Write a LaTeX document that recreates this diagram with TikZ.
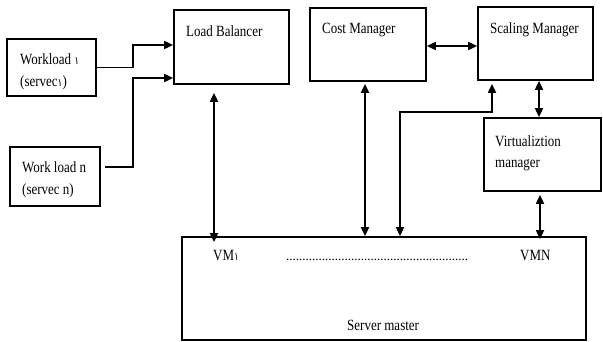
\documentclass[tikz,border=0pt]{standalone}
\usepackage{fontspec}
\setmainfont{Liberation Serif}
\newfontfamily\arabicfont[Script=Arabic]{DejaVu Sans}
\usetikzlibrary{arrows.meta,calc}
\newcommand{\aone}{{\arabicfont\fontsize{9}{9}\selectfont ١}}
\newcommand{\tall}[1]{\scalebox{1}[1.2]{#1}}
\tikzset{
  box/.style={draw, line width=1.7pt, inner sep=0pt, minimum width=#1},
  lbl/.style={anchor=base west, inner sep=0pt, font=\fontsize{13}{15}\selectfont},
  arr/.style={line width=1.7pt, -{Triangle[length=9pt,width=8pt]}},
  darr/.style={line width=1.7pt, {Triangle[length=9pt,width=8pt]}-{Triangle[length=9pt,width=8pt]}},
}
\begin{document}
\begin{tikzpicture}[x=1pt,y=-1pt]
\useasboundingbox (0,0) rectangle (603,342);
% boxes
\node[box=89pt, minimum height=57pt] (wl1) at (51.5,67.5) {};
\node[box=90pt, minimum height=59pt] (wln) at (55,176.5) {};
\node[box=115pt, minimum height=74pt] (lb) at (231.5,47) {};
\node[box=116pt, minimum height=73pt] (cm) at (368,44.5) {};
\node[box=115pt, minimum height=73pt] (scm) at (535.5,43.5) {};
\node[box=117pt, minimum height=73pt] (vm) at (542.5,154.5) {};
\node[box=404pt, minimum height=103pt] (sm) at (384,288.5) {};
% labels
\node[lbl] (t1) at (20,65) {\tall{Workload \aone}};
\node[lbl] (t2) at (20,87) {\tall{(servec\aone)}};
\node[lbl] (t3) at (22,173) {\tall{Work load n}};
\node[lbl] (t4) at (22,195) {\tall{(servec n)}};
\node[lbl] (t5) at (186,37) {\tall{Load Balancer}};
\node[lbl] (t6) at (322,34) {\tall{Cost Manager}};
\node[lbl] (t7) at (490,34) {\tall{Scaling Manager}};
\node[lbl] (t8) at (495,147) {\tall{Virtualiztion}};
\node[lbl] (t9) at (495,168) {\tall{manager}};
\node[lbl] (t10) at (213,260) {\tall{VM\aone}};
\node[lbl] (t11) at (286,260) {\makebox[182pt]{\leaders\hbox{.}\hfill}};
\node[lbl] (t12) at (520,260) {\tall{VMN}};
\node[lbl] (t13) at (347,330) {\tall{Server master}};
% junctions
\coordinate (j1) at (133,45);
\coordinate (j2) at (133,78);
\coordinate (j3) at (400,112);
% connectors
\draw[arr] (wl1.east) -| (j1) -- (j1 -| lb.west);
\draw[arr] ([yshift=9.5pt,xshift=4pt]wln.east) -| (j2) -- (j2 -| lb.west);
\draw[darr, shorten <=8pt, shorten >=-6pt] ([xshift=-17.5pt]lb.south) -- ([xshift=-17.5pt]lb.south |- sm.north);
\draw[darr, shorten <=2pt] ([xshift=-3pt]cm.south) -- ([xshift=-3pt]cm.south |- sm.north);
\draw[darr, shorten >=3pt] (j3 |- sm.north) -- (j3) -| ([xshift=-43.5pt]scm.south);
\draw[darr] (cm.east |- 0,46) -- (scm.west |- 0,46);
\draw[darr] ([xshift=3.5pt]scm.south) -- ([xshift=3.5pt]scm.south |- vm.north);
\draw[darr, shorten <=3pt, shorten >=-3pt] ([xshift=-2.5pt]vm.south) -- ([xshift=-2.5pt]vm.south |- sm.north);
\end{tikzpicture}
\end{document}
